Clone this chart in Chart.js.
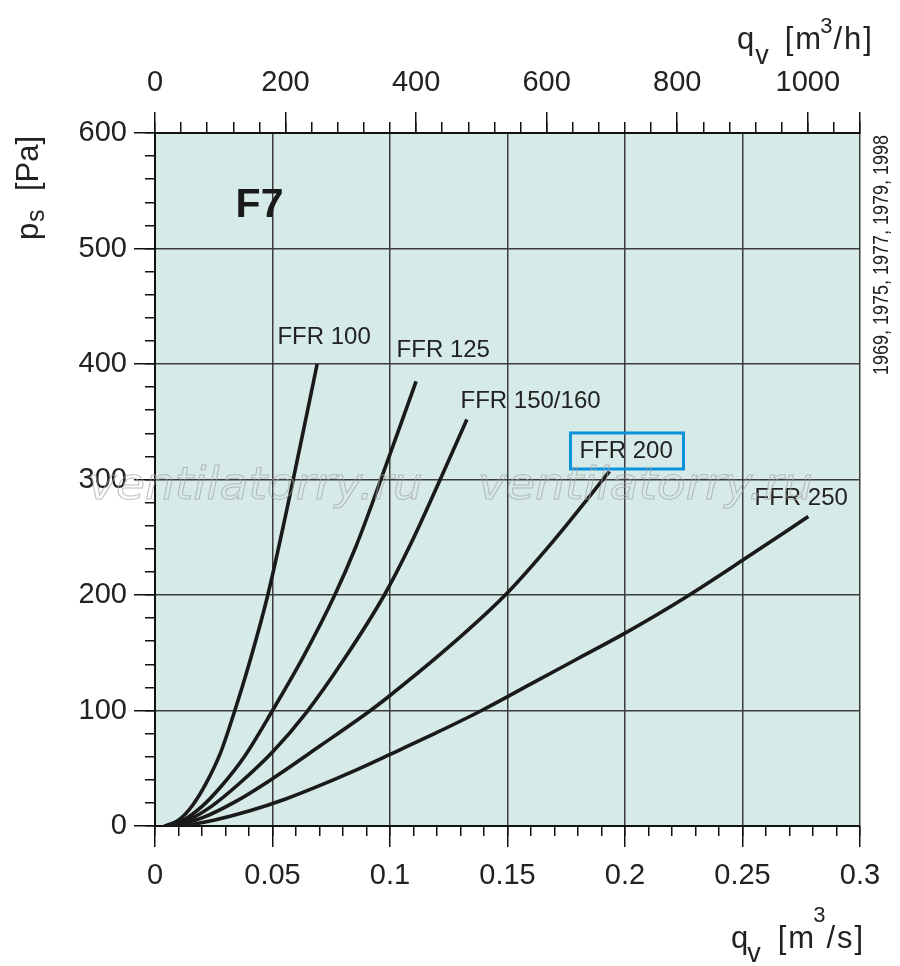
<!DOCTYPE html>
<html><head><meta charset="utf-8">
<script src="https://cdn.jsdelivr.net/npm/chart.js@4.4.1/dist/chart.umd.min.js"></script>
<style>html,body{margin:0;padding:0;background:#fff;}canvas{display:block;}</style>
</head><body>
<canvas id="c" width="900" height="966"></canvas>
<script>
// ---- data (q in m3/s, ps in Pa) ----
const seriesNames = ['FFR 100', 'FFR 125', 'FFR 150/160', 'FFR 200', 'FFR 250'];
const ffr100 = [[0.004,0],[0.010,5],[0.016,18],[0.022,38],[0.028,64],[0.0335,97],[0.040,140],[0.048,200],[0.058,292],[0.069,400]];
const ffr125 = [[0.005,0],[0.012,5],[0.020,17],[0.028,34],[0.038,60],[0.050,100],[0.0635,148],[0.0765,200],[0.0855,242],[0.094,288],[0.1111,385]];
const ffr150 = [[0.006,0],[0.014,5],[0.024,17],[0.036,37],[0.050,64],[0.0643,98],[0.080,143],[0.0976,200],[0.109,245],[0.1207,297],[0.1327,352]];
const ffr200 = [[0.008,0],[0.020,7],[0.035,22],[0.050,41],[0.070,69],[0.0917,100],[0.100,113],[0.125,155],[0.150,202],[0.170,248],[0.1934,307]];
const ffr250 = [[0.012,0],[0.025,5],[0.040,13],[0.055,23],[0.070,35],[0.085,48],[0.100,62],[0.120,81],[0.139,100],[0.160,123],[0.180,145],[0.200,167],[0.225,197],[0.250,230],[0.278,268]];
const seriesData = [ffr100, ffr125, ffr150, ffr200, ffr250];
// label anchors (q, ps): left edge / vertical centre of each curve label
const labelAnchors = [[0.0521,423],[0.1028,412],[0.130,368],[0.1806,324],[0.2551,284]];

// ---- tick values and labels ----
const xTicks = [0, 0.05, 0.1, 0.15, 0.2, 0.25, 0.3];
const xTickLabels = ['0', '0.05', '0.1', '0.15', '0.2', '0.25', '0.3'];
const yTicks = [0, 100, 200, 300, 400, 500, 600];
const yTickLabels = ['0', '100', '200', '300', '400', '500', '600'];
const topTicks = [0, 200, 400, 600, 800, 1000, 1080];
const topTickLabels = ['0', '200', '400', '600', '800', '1000', ''];
const xMinorTicks = Array.from({length: 31}, (_, i) => i / 100);
const yMinorTicks = Array.from({length: 31}, (_, i) => i * 20);
const topMinorTicks = Array.from({length: 28}, (_, i) => i * 40);

const FONT = '"Liberation Sans", Arial, Helvetica, sans-serif';
const TXT = '#222';

function richText(ctx, parts, x, y) {
  // parts: [text, size, dy, gapBefore]
  let cx = x;
  for (const [t, size, dy, gap] of parts) {
    cx += gap || 0;
    ctx.font = size + 'px ' + FONT;
    ctx.fillText(t, cx, y + dy);
    cx += ctx.measureText(t).width;
  }
}

const decor = {
  id: 'decor',
  beforeDraw(chart) {
    const {ctx, chartArea: a} = chart;
    ctx.save();
    ctx.fillStyle = '#d6eae8';
    ctx.fillRect(a.left, a.top, a.right - a.left, a.bottom - a.top);
    ctx.restore();
  },
  afterDatasetsDraw(chart) {
    const {ctx} = chart;
    const sx = chart.scales.x, sy = chart.scales.y;
    const px = v => sx.getPixelForValue(v), py = v => sy.getPixelForValue(v);
    ctx.save();
    ctx.fillStyle = TXT;
    ctx.font = '24px ' + FONT;
    ctx.textBaseline = 'middle';
    ctx.textAlign = 'left';
    seriesNames.forEach((n, i) => ctx.fillText(n, px(labelAnchors[i][0]), py(labelAnchors[i][1])));
    ctx.strokeStyle = '#0a93dc';
    ctx.lineWidth = 3;
    const bx1 = px(0.1768), bx2 = px(0.2249), by1 = py(340.3), by2 = py(309.1);
    ctx.strokeRect(bx1, by1, bx2 - bx1, by2 - by1);
    ctx.font = 'bold 41px ' + FONT;
    ctx.fillStyle = '#1a1a1a';
    ctx.fillText('F7', px(0.0343), py(537));
    // watermark
    ctx.font = 'italic 44px "DejaVu Sans", sans-serif';
    ctx.strokeStyle = 'rgba(165,165,165,0.7)';
    ctx.lineWidth = 1;
    ctx.textBaseline = 'alphabetic';
    const wm = 'ventilatorry.ru';
    const ww = ctx.measureText(wm).width;
    [[88, 499], [478, 499]].forEach(([x0, y0]) => {
      ctx.save(); ctx.translate(x0, y0); ctx.scale(335 / ww, 1);
      ctx.strokeText(wm, 0, 0); ctx.restore();
    });
    ctx.restore();
  },
  afterDraw(chart) {
    const {ctx} = chart;
    ctx.save();
    ctx.fillStyle = TXT;
    ctx.textBaseline = 'alphabetic';
    ctx.textAlign = 'left';
    ctx.letterSpacing = '2px';
    // top title q_v [m3/h]
    richText(ctx, [['q', 31, 0], ['v', 27, 15, -1], ['[m', 31, 0, 14], ['3', 22, -16, -3], ['/h]', 31, 0, -1]], 737, 49);
    // bottom title q_v [m3/s]
    richText(ctx, [['q', 31, 0], ['v', 27, 14, -3], ['[m', 31, 0, 15], ['3', 22, -26, -3], ['/s]', 31, 0, -1]], 731, 948);
    ctx.letterSpacing = '0px';
    // left title p_s [Pa]
    ctx.save();
    ctx.translate(38, 240); ctx.rotate(-Math.PI / 2);
    ctx.font = '31px ' + FONT; ctx.fillText('p', 0, 0);
    ctx.font = '25px ' + FONT; ctx.fillText('s', 18, 6);
    ctx.font = '31px ' + FONT; ctx.fillText('[Pa]', 49, 0);
    ctx.restore();
    // right side years
    ctx.save();
    ctx.translate(888, 375); ctx.rotate(-Math.PI / 2);
    ctx.font = '22px ' + FONT;
    const yt = '1969, 1975, 1977, 1979, 1998';
    const w = ctx.measureText(yt).width;
    ctx.scale(240 / w, 1);
    ctx.fillText(yt, 0, 0);
    ctx.restore();
    ctx.restore();
  }
};

const setTicks = arr => s => { s.ticks = arr.map(v => ({value: v})); };
const tickFont = {family: FONT, size: 29};
const GRID = '#3c3c3c';
const AX = '#111';

new Chart(document.getElementById('c'), {
  type: 'line',
  data: {
    datasets: seriesData.map((d, i) => ({
      label: seriesNames[i],
      data: d.map(p => ({x: p[0], y: p[1]})),
      borderColor: '#1a1a1a',
      borderWidth: 3.6,
      pointRadius: 0,
      fill: false,
      cubicInterpolationMode: 'monotone',
      xAxisID: 'x', yAxisID: 'y'
    }))
  },
  options: {
    responsive: false,
    animation: false,
    layout: {padding: {left: 0, right: 40, top: 0, bottom: 0}},
    plugins: {legend: {display: false}, tooltip: {enabled: false}},
    scales: {
      x: {
        type: 'linear', position: 'bottom', min: 0, max: 0.3, weight: 0,
        afterBuildTicks: setTicks(xTicks),
        afterFit: s => { s.height = 140; },
        grid: {color: GRID, lineWidth: 1.5, tickLength: 21, tickColor: AX, tickWidth: 1.5},
        border: {color: AX, width: 2},
        ticks: {autoSkip: false, maxRotation: 0, padding: 12, color: TXT, font: tickFont,
                callback: (v, i) => xTickLabels[i]}
      },
      xMinor: {
        type: 'linear', position: 'bottom', min: 0, max: 0.3, weight: -1,
        afterBuildTicks: setTicks(xMinorTicks),
        afterFit: s => { s.height = 0; },
        grid: {drawOnChartArea: false, tickLength: 10, color: AX, lineWidth: 1.5},
        border: {display: false},
        ticks: {display: false}
      },
      xTop: {
        type: 'linear', position: 'top', min: 0, max: 1080, weight: 0,
        afterBuildTicks: setTicks(topTicks),
        afterFit: s => { s.height = 133; },
        grid: {drawOnChartArea: false, tickLength: 21, color: AX, lineWidth: 1.5},
        border: {color: AX, width: 2},
        ticks: {autoSkip: false, maxRotation: 0, padding: 12, color: TXT, font: tickFont,
                callback: (v, i) => topTickLabels[i]}
      },
      xTopMinor: {
        type: 'linear', position: 'top', min: 0, max: 1080, weight: -1,
        afterBuildTicks: setTicks(topMinorTicks),
        afterFit: s => { s.height = 0; },
        grid: {drawOnChartArea: false, tickLength: 11, color: AX, lineWidth: 1.5},
        border: {display: false},
        ticks: {display: false}
      },
      y: {
        type: 'linear', position: 'left', min: 0, max: 600, weight: 0,
        afterBuildTicks: setTicks(yTicks),
        afterFit: s => { s.width = 155; },
        grid: {color: GRID, lineWidth: 1.5, tickLength: 21, tickColor: AX, tickWidth: 1.5},
        border: {color: AX, width: 2},
        ticks: {autoSkip: false, padding: 7, color: TXT, font: tickFont,
                callback: (v, i) => yTickLabels[i]}
      },
      yMinor: {
        type: 'linear', position: 'left', min: 0, max: 600, weight: -1,
        afterBuildTicks: setTicks(yMinorTicks),
        afterFit: s => { s.width = 0; },
        grid: {drawOnChartArea: false, tickLength: 10, color: AX, lineWidth: 1.5},
        border: {display: false},
        ticks: {display: false}
      }
    }
  },
  plugins: [decor]
});
</script>
</body></html>
